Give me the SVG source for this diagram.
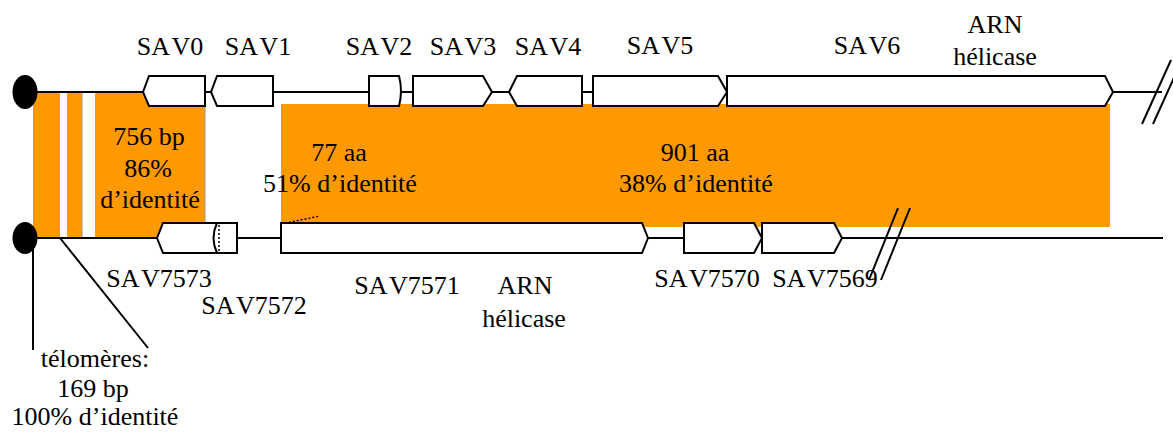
<svg xmlns="http://www.w3.org/2000/svg" width="1173" height="432" viewBox="0 0 1173 432">
<style>
  .gene{fill:#fff;stroke:#000;stroke-width:2;stroke-linejoin:miter}
  .ln{stroke:#000;stroke-width:2;fill:none}
  .or{fill:#FF9900}
  text{font-family:"Liberation Serif","Times New Roman",serif;font-size:26px;fill:#000;text-anchor:middle}
  .sav{word-spacing:-3px}
</style>
<rect width="1173" height="432" fill="#fff"/>
<g id="homology">
  <rect class="or" x="33" y="92" width="172" height="146"/>
  <rect x="60" y="92" width="7" height="146" fill="#fff"/>
  <rect x="82" y="92" width="13" height="146" fill="#fff"/>
  <line x1="82" y1="92" x2="82" y2="238" stroke="#999" stroke-width="1"/>
  <line x1="205" y1="92" x2="205" y2="238" stroke="#999" stroke-width="1"/>
  <rect class="or" x="281" y="104" width="829" height="123"/>
</g>
<g id="connectors">
  <line class="ln" x1="25" y1="92" x2="1162" y2="92"/>
  <line class="ln" x1="25" y1="238" x2="1163" y2="238"/>
  <line class="ln" x1="1142" y1="124" x2="1171" y2="60"/>
  <line class="ln" x1="1153" y1="124" x2="1182" y2="60"/>
  <line class="ln" x1="869" y1="280" x2="898" y2="208"/>
  <line class="ln" x1="881" y1="280" x2="910" y2="208"/>
  <line class="ln" x1="33" y1="240" x2="33" y2="350"/>
  <line class="ln" x1="60" y1="238" x2="148" y2="348"/>
  <line x1="281" y1="224" x2="320" y2="216" stroke="#000" stroke-width="1.5" stroke-dasharray="2,2"/>
</g>
<g id="SAV0"><polygon class="gene" points="143,92 149,76 205,76 205,106 149,106"/><text class="sav" x="170" y="55">SA V0</text></g>
<g id="SAV1"><polygon class="gene" points="211,92 217,76 273,76 273,106 217,106"/><text class="sav" x="258" y="55">SA V1</text></g>
<g id="SAV2"><path class="gene" d="M369,76 H399 Q403,91 399,106 H369 Z"/><text class="sav" x="379" y="55">SA V2</text></g>
<g id="SAV3"><polygon class="gene" points="413,76 483,76 492,92 483,106 413,106"/><text class="sav" x="463" y="55">SA V3</text></g>
<g id="SAV4"><polygon class="gene" points="509,92 517,76 582,76 582,106 517,106"/><text class="sav" x="548" y="55">SA V4</text></g>
<g id="SAV5"><polygon class="gene" points="593,76 718,76 727,92 718,106 593,106"/><text class="sav" x="660" y="54">SA V5</text></g>
<g id="SAV6"><polygon class="gene" points="727,76 1105,76 1113,92 1105,106 727,106"/><text class="sav" x="867" y="54">SA V6</text>
  <text x="995" y="33">ARN</text><text x="995" y="65">hélicase</text></g>
<g id="SAV7573"><polygon class="gene" points="157,238 163,223 237,223 237,253 163,253"/><text class="sav" x="159" y="287">SA V7573</text></g>
<g id="SAV7572"><path d="M217,223 Q210,238 217,253" class="ln"/><line x1="219" y1="225" x2="219" y2="252" stroke="#000" stroke-width="1.5" stroke-dasharray="2,2"/><text class="sav" x="254" y="314">SA V7572</text></g>
<g id="SAV7571"><polygon class="gene" points="281,223 642,223 648,238 642,253 281,253"/><text class="sav" x="407" y="294">SA V7571</text>
  <text x="525" y="294">ARN</text><text x="524" y="327">hélicase</text></g>
<g id="SAV7570"><polygon class="gene" points="684,223 754,223 762,238 754,253 684,253"/><text class="sav" x="707" y="287">SA V7570</text></g>
<g id="SAV7569"><polygon class="gene" points="762,223 834,223 842,238 834,253 762,253"/><text class="sav" x="825" y="287">SA V7569</text></g>
<g id="ends">
  <ellipse cx="25" cy="92" rx="12.5" ry="17" fill="#000"/>
  <ellipse cx="25" cy="238" rx="12.5" ry="16" fill="#000"/>
</g>
<g id="labels">
  <text x="149" y="145">756 bp</text>
  <text x="148" y="177">86%</text>
  <text x="150" y="208">d’identité</text>
  <text x="339" y="161">77 aa</text>
  <text x="340" y="192">51% d’identité</text>
  <text x="695" y="161">901 aa</text>
  <text x="696" y="192">38% d’identité</text>
  <text x="95" y="367">télomères:</text>
  <text x="93" y="397">169 bp</text>
  <text x="95" y="425">100% d’identité</text>
</g>
</svg>
